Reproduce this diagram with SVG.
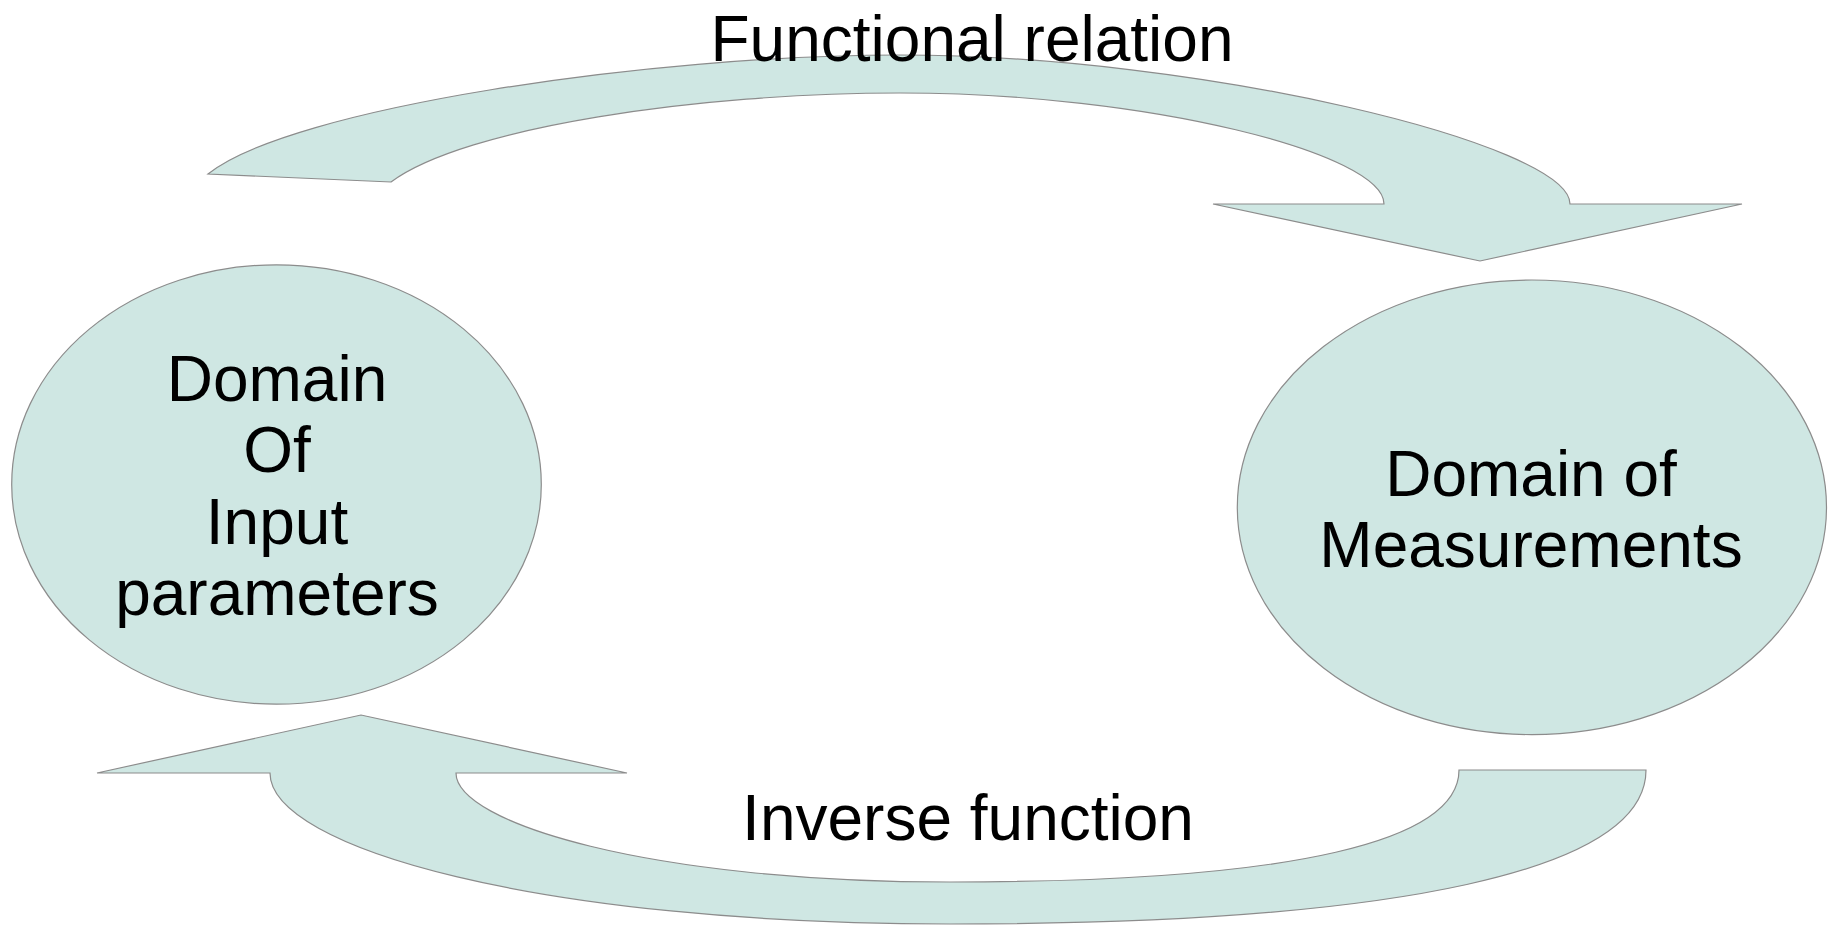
<svg xmlns="http://www.w3.org/2000/svg" width="1837" height="925" viewBox="0 0 1837 925">
<style>
.shape{fill:#cfe7e3;stroke:#8c8c8c;stroke-width:1.2}
.t{font-family:"Liberation Sans",Arial,sans-serif;font-size:64px;fill:#000;text-anchor:middle}
</style>
<rect width="1837" height="925" fill="#ffffff"/>
<g id="connectors">
<path id="arrow-functional" class="shape" d="M208,174 C290,108 650,55 900,55 C1200,55 1570,144 1570,204 L1742,204 L1480,261 L1213,204 L1384,204 C1384,154 1150,93 900,93 C700,93 465,127 391,182 Z"/>
<path id="arrow-inverse" class="shape" d="M97,773 L361,715 L627,773 L456,773 C456,823 650,882 950,882 C1300,882 1459,840 1459,770 L1646,770 C1646,870 1400,924 950,924 C540,924 270,848 270,773 Z"/>
<text class="t" x="972" y="61">Functional relation</text>
<text class="t" x="968" y="840">Inverse function</text>
</g>
<g id="node-input">
<ellipse class="shape" cx="276.5" cy="484.5" rx="264.8" ry="219.7"/>
<text class="t" x="277" y="401">Domain</text>
<text class="t" x="277" y="472">Of</text>
<text class="t" x="277" y="544">Input</text>
<text class="t" x="277" y="615">parameters</text>
</g>
<g id="node-measurements">
<ellipse class="shape" cx="1531.9" cy="507.3" rx="294.6" ry="227.3"/>
<text class="t" x="1531" y="496">Domain of</text>
<text class="t" x="1531" y="567">Measurements</text>
</g>
</svg>
